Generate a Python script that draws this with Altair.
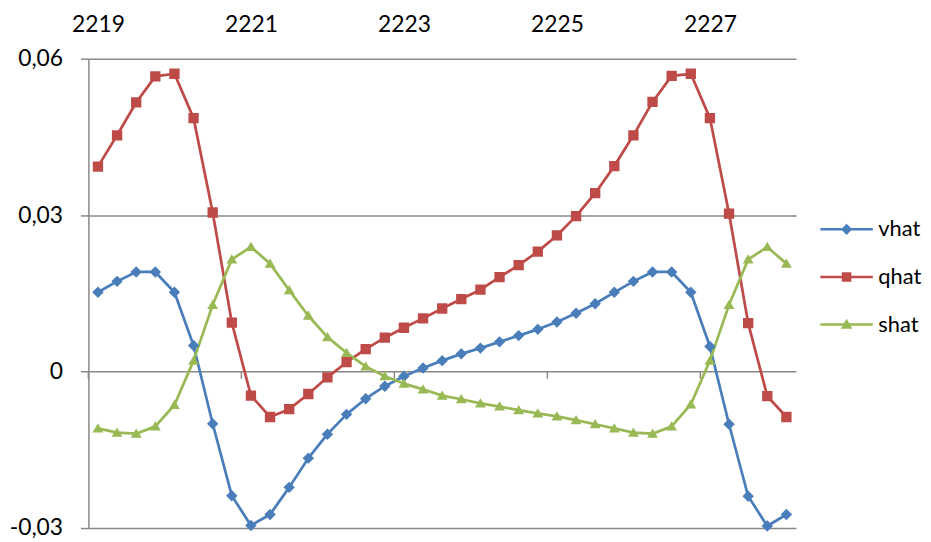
import altair as alt
import pandas as pd

periods = [2219.0, 2219.25, 2219.5, 2219.75, 2220.0, 2220.25, 2220.5, 2220.75,
           2221.0, 2221.25, 2221.5, 2221.75, 2222.0, 2222.25, 2222.5, 2222.75,
           2223.0, 2223.25, 2223.5, 2223.75, 2224.0, 2224.25, 2224.5, 2224.75,
           2225.0, 2225.25, 2225.5, 2225.75, 2226.0, 2226.25, 2226.5, 2226.75,
           2227.0, 2227.25, 2227.5, 2227.75, 2228.0]

vhat = [0.0152, 0.0173, 0.0191, 0.0191, 0.0152, 0.0050, -0.0100, -0.0238,
        -0.0295, -0.0274, -0.0222, -0.0166, -0.0120, -0.0082, -0.0052, -0.0028,
        -0.0009, 0.0007, 0.0021, 0.0034, 0.0045, 0.0057, 0.0069, 0.0081,
        0.0095, 0.0112, 0.0130, 0.0152, 0.0173, 0.0191, 0.0191, 0.0152,
        0.0048, -0.0101, -0.0239, -0.0296, -0.0274]

qhat = [0.0393, 0.0453, 0.0516, 0.0566, 0.0571, 0.0486, 0.0305, 0.0094,
        -0.0046, -0.0087, -0.0072, -0.0043, -0.0011, 0.0018, 0.0043, 0.0065,
        0.0084, 0.0102, 0.0121, 0.0139, 0.0157, 0.0181, 0.0204, 0.0230,
        0.0261, 0.0298, 0.0342, 0.0394, 0.0453, 0.0517, 0.0567, 0.0571,
        0.0486, 0.0303, 0.0093, -0.0047, -0.0087]

shat = [-0.0109, -0.0117, -0.0119, -0.0105, -0.0064, 0.0021, 0.0128, 0.0215,
        0.0239, 0.0207, 0.0156, 0.0107, 0.0066, 0.0036, 0.0010, -0.0009,
        -0.0023, -0.0034, -0.0046, -0.0053, -0.0061, -0.0067, -0.0074, -0.0080,
        -0.0086, -0.0093, -0.0101, -0.0109, -0.0117, -0.0119, -0.0105, -0.0063,
        0.0021, 0.0128, 0.0215, 0.0239, 0.0207]

series_names = ["vhat", "qhat", "shat"]
series_colors = ["#4A7EBB", "#BE4B48", "#98B954"]
y_ticks = [-0.03, 0, 0.03, 0.06]
x_label_years = [2219, 2221, 2223, 2225, 2227]
x_tick_bounds = [2218.875, 2220.875, 2222.875, 2224.875, 2226.875]

rows = []
for name, vals in zip(series_names, [vhat, qhat, shat]):
    for p, v in zip(periods, vals):
        rows.append({"period": p, "series": name, "value": v})
df = pd.DataFrame(rows)
tick_df = pd.DataFrame({"b": x_tick_bounds})

FONT = "Lato"
GRID = "#898989"
FS = 23

# marker shapes; the horizontal segment is only stroked in the legend
series_shapes = [
    "M-7.07,0L7.07,0M-1.05,0L0,-1.05L1.05,0L0,1.05Z",
    "M-7.07,0L7.07,0M-0.95,-0.95L0.95,-0.95L0.95,0.95L-0.95,0.95Z",
    "M-7.07,0L7.07,0M0,-0.95L1,0.75L-1,0.75Z",
]

x_scale = alt.Scale(domain=[2218.875, 2228.125], nice=False, zero=False)
y_scale = alt.Scale(domain=[-0.03, 0.06], nice=False, zero=False)

x_axis = alt.Axis(orient="top", values=x_label_years, format="d", ticks=False,
                  tickSize=0, domain=False, grid=False, labelPadding=22,
                  labelFontSize=FS, labelFont=FONT, labelColor="black",
                  title=None, labelOverlap=False)
y_axis = alt.Axis(values=y_ticks,
                  labelExpr="datum.value == 0 ? '0' : (datum.value < 0 ? '-' : '') + replace(format(abs(datum.value), '.2f'), '.', ',')",
                  grid=True, gridColor=GRID, gridWidth=1.5,
                  domainColor=GRID, domainWidth=1.5,
                  tickColor=GRID, tickWidth=1.5, tickSize=8,
                  labelPadding=18, labelFontSize=FS, labelFont=FONT,
                  labelColor="black", title=None)

legend_def = alt.Legend(
    title=None, orient="none", legendX=753, legendY=161, padding=0,
    labelFont=FONT, labelFontSize=22, labelColor="black",
    symbolSize=56, symbolStrokeWidth=2.5,
    labelOffset=21, rowPadding=26,
)

ticks = alt.Chart(tick_df).mark_rule(color=GRID, strokeWidth=1.5).encode(
    x=alt.X("b:Q", scale=x_scale, axis=x_axis),
    y=alt.YDatum(0, scale=y_scale, axis=y_axis),
    y2=alt.Y2Datum(-0.00135),
)

lines = alt.Chart(df).mark_line(strokeWidth=2.75, strokeJoin="round").encode(
    x=alt.X("period:Q", scale=x_scale, axis=x_axis),
    y=alt.Y("value:Q", scale=y_scale, axis=y_axis),
    color=alt.Color("series:N", scale=alt.Scale(domain=series_names, range=series_colors), legend=legend_def),
)

points = alt.Chart(df).mark_point(filled=True, opacity=1, size=120).encode(
    x=alt.X("period:Q", scale=x_scale, axis=x_axis),
    y=alt.Y("value:Q", scale=y_scale, axis=y_axis),
    fill=alt.Fill("series:N", scale=alt.Scale(domain=series_names, range=series_colors), legend=legend_def),
    shape=alt.Shape("series:N", scale=alt.Scale(domain=series_names, range=series_shapes), legend=legend_def),
)

chart = alt.layer(lines, points, ticks).properties(
    width=713, height=473,
    padding={"left": 81, "top": 49, "right": 128, "bottom": 10},
    autosize=alt.AutoSizeParams(type="none"),
    background="white",
).configure_view(stroke=None)

chart.save("out.html", embed_options={"renderer": "svg", "actions": False})
